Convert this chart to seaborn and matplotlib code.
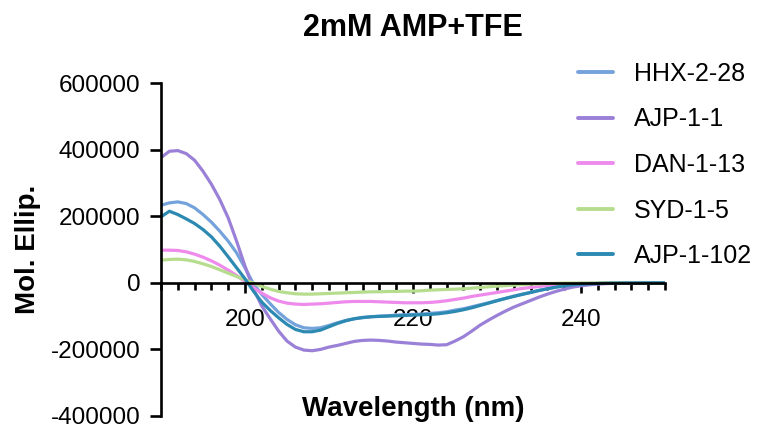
import matplotlib
matplotlib.use("Agg")
import matplotlib.pyplot as plt
import matplotlib.ticker as mticker
import numpy as np
import pandas as pd
import seaborn as sns

# wavelength grid (nm), 1 nm steps
wavelength = list(range(190, 251))

# CD spectra (Mol. Ellip.)
hhx_2_28 = [233000, 240000, 243000, 238000, 225000, 205000, 182000, 155000, 125000, 90000,
            45000, -3000, -35000, -63000, -89000, -110000, -126000, -135000, -137000, -135000,
            -128000, -120000, -113000, -108000, -105000, -102000, -100000, -99000, -97000, -96000,
            -95000, -94000, -92000, -90000, -87000, -82000, -78000, -72000, -66000, -60000,
            -53000, -47000, -40000, -34000, -29000, -23000, -18000, -13000, -9000, -6000,
            -4500, -3000, -2000, -1200, -800, -500, -300, -200, 0, 0, 0]
ajp_1_1 = [376000, 395000, 397000, 388000, 368000, 335000, 296000, 250000, 195000, 125000,
           50000, -18000, -70000, -108000, -145000, -175000, -193000, -202000, -204000, -200000,
           -193000, -188000, -182000, -176000, -173000, -172000, -173000, -175000, -178000, -180000,
           -182000, -184000, -185000, -187000, -186000, -175000, -162000, -145000, -127000, -112000,
           -98000, -85000, -73000, -63000, -53000, -43000, -34000, -26000, -19000, -13000,
           -9000, -6000, -4000, -2500, -1500, -1000, -500, -300, 0, 0, 0]
dan_1_13 = [98000, 98000, 97000, 93000, 86000, 77000, 66000, 53000, 38000, 22000,
            4000, -14000, -31000, -45000, -55000, -61000, -64000, -65000, -64000, -63000,
            -61000, -59000, -57000, -56000, -56000, -56000, -57000, -58000, -59000, -60000,
            -60000, -60000, -59000, -57000, -54000, -50000, -46000, -41000, -37000, -33000,
            -29000, -25000, -21000, -17000, -14000, -11000, -8000, -6000, -4000, -3000,
            -2000, -1500, -1000, -700, -500, -300, -200, -100, 0, 0, 0]
syd_1_5 = [68000, 70000, 71000, 69000, 64000, 57000, 49000, 39000, 29000, 19000,
           9000, -1000, -11000, -19000, -26000, -30000, -33000, -34000, -34000, -33000,
           -32000, -31000, -30000, -29000, -28000, -27000, -27000, -26000, -26000, -25000,
           -25000, -24000, -22000, -21000, -20000, -19000, -18000, -16000, -14000, -12000,
           -10000, -8500, -7000, -5500, -4000, -3000, -2000, -1500, -1000, -700,
           -500, -400, -300, -200, -100, 0, 0, 0, 0, 0, 0]
ajp_1_102 = [198000, 215000, 205000, 192000, 178000, 160000, 138000, 110000, 78000, 45000,
             12000, -25000, -58000, -83000, -105000, -125000, -140000, -147000, -147000, -142000,
             -132000, -122000, -114000, -108000, -104000, -102000, -101000, -100000, -99000, -98000,
             -97000, -96000, -95000, -93000, -90000, -86000, -81000, -75000, -68000, -61000,
             -54000, -47000, -41000, -35000, -29000, -23000, -18000, -13000, -9000, -6000,
             -4500, -3000, -2000, -1200, -800, -500, -300, -200, 0, 0, 0]

samples = ["HHX-2-28", "AJP-1-1", "DAN-1-13", "SYD-1-5", "AJP-1-102"]
colors = ["#74A3DC", "#9B80D8", "#EE8AEC", "#B6DD8E", "#2B89B2"]

series = [hhx_2_28, ajp_1_1, dan_1_13, syd_1_5, ajp_1_102]
frames = []
for name, vals in zip(samples, series):
    frames.append(pd.DataFrame({"Wavelength": wavelength, "Ellip": vals, "Sample": name}))
df = pd.concat(frames, ignore_index=True)

sns.set_style("ticks")
plt.rcParams["font.family"] = ["Liberation Sans", "DejaVu Sans"]
plt.rcParams["text.color"] = "black"
plt.rcParams["axes.labelcolor"] = "black"

fig = plt.figure(figsize=(7.7, 4.3), dpi=100)
ax = fig.add_axes([161 / 770, 14 / 430, 504 / 770, 333 / 430])

sns.lineplot(data=df, x="Wavelength", y="Ellip", hue="Sample", hue_order=samples,
             palette=colors, linewidth=2.3, ax=ax, legend=True)

ax.set_xlim(190, 250)
ax.set_ylim(-400000, 600000)
ax.set_yticks([-400000, -200000, 0, 200000, 400000, 600000])
ax.yaxis.set_major_formatter(mticker.FuncFormatter(lambda v, p: f"{int(v)}"))
ax.set_xticks([200, 220, 240])
ax.xaxis.set_minor_locator(mticker.MultipleLocator(2))

# x axis sits on y = 0
ax.spines["bottom"].set_position(("data", 0))
ax.spines["top"].set_visible(False)
ax.spines["right"].set_visible(False)
for s in ["left", "bottom"]:
    ax.spines[s].set_linewidth(1.9)
    ax.spines[s].set_color("black")

ax.tick_params(axis="y", which="major", length=8, width=1.9, labelsize=17.5, pad=7, colors="black")
ax.tick_params(axis="x", which="major", length=7, width=1.9, labelsize=17.5, pad=12, colors="black")
ax.tick_params(axis="x", which="minor", length=5, width=1.9, colors="black")

ax.set_ylabel("Mol. Ellip.", fontsize=20, fontweight="bold", labelpad=7, color="black")
ax.set_xlabel("Wavelength (nm)", fontsize=20, fontweight="bold", color="black")
ax.xaxis.set_label_coords(0.5, 0.02)
ax.xaxis.label.set_va("center")
ax.set_title("2mM AMP+TFE", fontsize=22, fontweight="bold", y=1.14, pad=0, color="black")

handles, labels = ax.get_legend_handles_labels()
for h in handles:
    h.set_linewidth(2.8)
leg = ax.legend(handles, labels, loc="upper left", bbox_to_anchor=(578 / 770, 1 - 62 / 430),
                bbox_transform=fig.transFigure, frameon=False, fontsize=18,
                handlelength=1.4, handletextpad=0.85, labelspacing=0.86,
                borderpad=0, borderaxespad=0)
for t in leg.get_texts():
    t.set_color("black")

fig.savefig("out.png", dpi=100)
